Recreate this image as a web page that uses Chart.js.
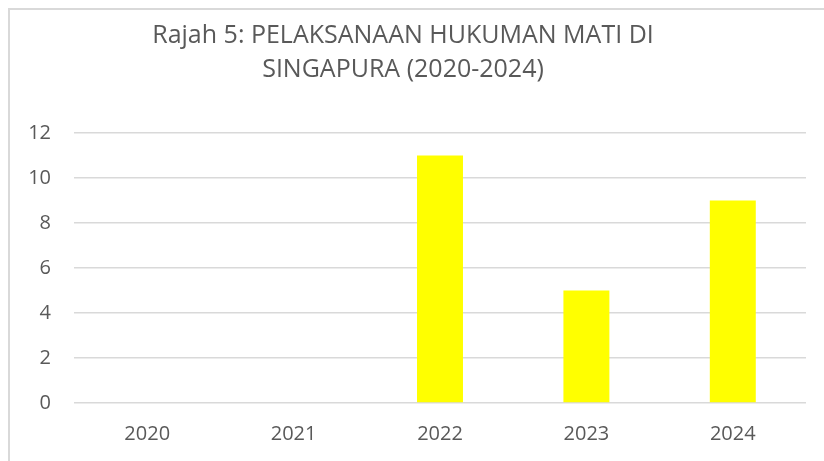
<!DOCTYPE html>
<html>
<head>
<meta charset="utf-8">
<script src="https://cdn.jsdelivr.net/npm/chart.js@4.4.1/dist/chart.umd.min.js"></script>
<style>
  html, body { margin: 0; padding: 0; background: #ffffff; }
  #wrap { position: relative; width: 824px; height: 461px; overflow: hidden; }
  #frame {
    position: absolute; left: 8px; top: 8px; width: 900px; height: 500px;
    border-left: 2px solid #d9d9d9; border-top: 2px solid #d9d9d9;
  }
  canvas { position: absolute; left: 0; top: 0; }
</style>
</head>
<body>
<div id="wrap">
  <div id="frame"></div>
  <canvas id="chart" width="824" height="461"></canvas>
</div>
<script>
// Chart data
const titleLines = ["Rajah 5: PELAKSANAAN HUKUMAN MATI DI", "SINGAPURA (2020-2024)"];
const years = ["2020", "2021", "2022", "2023", "2024"];
const executions = [0, 0, 11, 5, 9];
const yTicks = { min: 0, max: 12, step: 2 };

const textColor = "#595959";
const fontFamily = "'Open Sans', sans-serif";

const ctx = document.getElementById("chart").getContext("2d");
new Chart(ctx, {
  type: "bar",
  data: {
    labels: years,
    datasets: [
      {
        label: "Hukuman mati",
        data: executions,
        backgroundColor: "#ffff00",
        borderWidth: 0,
        categoryPercentage: 1,
        barPercentage: 0.314,
      },
    ],
  },
  options: {
    responsive: false,
    animation: false,
    layout: { padding: { left: 0, right: 18, top: 0, bottom: 0 } },
    plugins: {
      legend: { display: false },
      tooltip: { enabled: false },
      title: {
        display: true,
        text: titleLines,
        color: textColor,
        font: { family: fontFamily, size: 25, weight: "normal", lineHeight: "34px" },
        padding: { top: 19, bottom: 46 },
      },
    },
    scales: {
      x: {
        grid: { display: false, drawTicks: false },
        border: { display: false },
        ticks: { color: textColor, font: { family: fontFamily, size: 20 }, padding: 19 },
        afterFit: (scale) => { scale.height = 58; },
      },
      y: {
        min: yTicks.min,
        max: yTicks.max,
        grid: { color: "#d9d9d9", lineWidth: 1.5, drawTicks: false },
        border: { display: false },
        ticks: {
          stepSize: yTicks.step,
          color: textColor,
          font: { family: fontFamily, size: 20 },
          padding: 23,
        },
        afterFit: (scale) => { scale.width = 74; },
      },
    },
  },
});
</script>
</body>
</html>
